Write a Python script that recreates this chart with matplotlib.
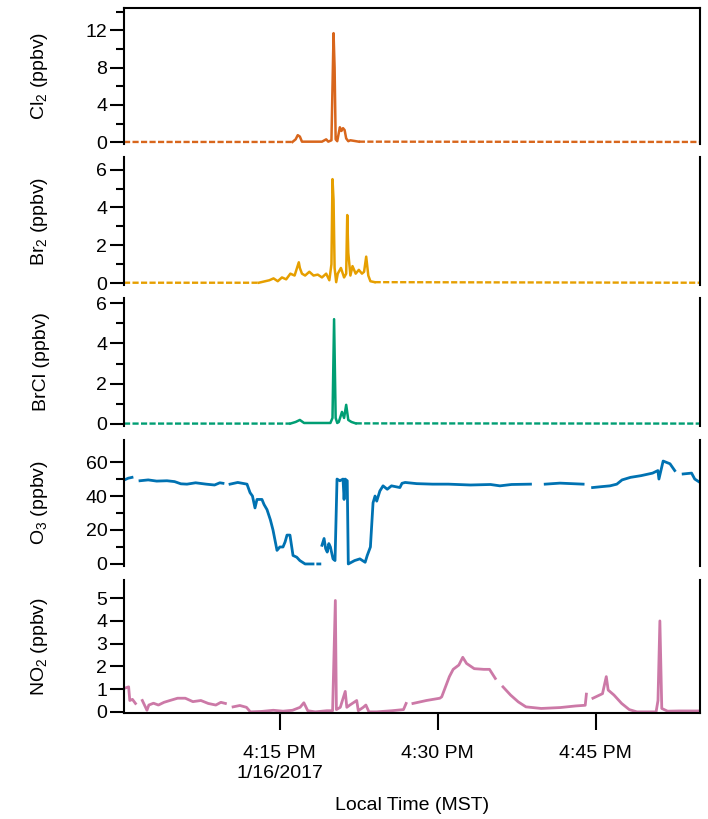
import numpy as np
import matplotlib
matplotlib.use('Agg')
import matplotlib.pyplot as plt
from matplotlib.ticker import FixedLocator

plt.rcParams['font.family'] = ['Liberation Sans', 'DejaVu Sans']
plt.rcParams['mathtext.fontset'] = 'custom'
plt.rcParams['mathtext.rm'] = 'Liberation Sans'
plt.rcParams['mathtext.it'] = 'Liberation Sans:italic'

# time in minutes after 4:00 PM (MST), 1/16/2017
cl2_t = [0.2, 16.2, 16.5, 16.7, 16.9, 17.1, 19.0, 19.4, 19.6, 19.9, 20.1, 20.2, 20.3,
         20.45, 20.7, 20.85, 21.0, 21.15, 21.3, 21.5, 21.7, 22.5, 54.9]
cl2_v = [0.02, 0.02, 0.3, 0.75, 0.6, 0.05, 0.05, 0.3, 0.05, 0.2, 11.7, 8.0, 0.3,
         0.1, 1.6, 1.2, 1.5, 1.3, 0.4, 0.1, 0.2, 0.05, 0.02]

br2_t = [0.2, 13.0, 14.0, 14.4, 14.8, 15.2, 15.6, 16.0, 16.4, 16.8, 16.9, 17.1, 17.4,
         17.8, 18.2, 18.6, 19.0, 19.4, 19.7, 19.9, 20.0, 20.1, 20.2, 20.35, 20.5, 20.8,
         21.1, 21.3, 21.4, 21.5, 21.7, 21.9, 22.2, 22.5, 22.8, 23.0, 23.2, 23.4, 23.6,
         24.0, 54.9]
br2_v = [0.02, 0.02, 0.15, 0.25, 0.1, 0.3, 0.2, 0.5, 0.4, 1.1, 0.8, 0.5, 0.4,
         0.6, 0.4, 0.45, 0.3, 0.5, 0.15, 1.0, 5.5, 4.4, 0.8, 0.05, 0.5, 0.8,
         0.3, 0.5, 3.6, 1.6, 0.4, 0.9, 0.5, 0.7, 0.5, 0.6, 1.4, 0.4, 0.1,
         0.05, 0.02]

brcl_t = [0.2, 16.0, 16.5, 16.9, 17.3, 19.8, 20.0, 20.15, 20.3, 20.45, 20.6, 20.9,
          21.1, 21.3, 21.5, 21.8, 22.2, 54.9]
brcl_v = [0.02, 0.02, 0.1, 0.2, 0.05, 0.05, 0.3, 5.2, 0.3, 0.05, 0.1, 0.6,
          0.3, 0.95, 0.2, 0.1, 0.03, 0.02]

nan = np.nan
o3_t = [0.2, 0.6, 0.96, 1.2, 1.72, 2.5, 3.3, 4.28, 5.0, 5.6, 6.18, 7.0, 8.0, 8.8, 9.3,
        9.6, 9.9, 10.27, 11.0, 11.88, 12.17, 12.4, 12.64, 12.83, 13.3, 13.5, 13.78,
        14.1, 14.35, 14.73, 15.0, 15.3, 15.5, 15.68, 15.96, 16.25, 16.6, 16.9, 17.4,
        18.15, 18.4, 18.6, 18.8, 18.9, 19.0, 19.2, 19.35, 19.5, 19.65, 19.8, 20.05,
        20.24, 20.43, 20.7, 21.0, 21.1, 21.2, 21.4, 21.5, 22.1, 22.6, 23.1, 23.3, 23.6,
        23.85, 24.04, 24.2, 24.5, 24.8, 25.2, 25.6, 26.0, 26.4, 26.6, 26.9, 28.0, 29.5,
        31.0, 33.1, 35.0, 35.9, 37.0, 38.8, 39.4, 40.2, 41.6, 43.8, 44.2, 44.7, 45.5,
        46.35, 47.0, 47.5, 48.3, 49.3, 50.4, 50.9, 51.0, 51.4, 52.05, 52.5, 52.8, 53.3,
        54.1, 54.4, 54.9]
o3_v = [49.4, 50.5, 51, nan, 49, 49.5, 48.8, 49, 48.5, 47.2, 47, 47.8, 47, 46.5, 47.8,
        47.5, nan, 47, 48, 47, 42, 40, 33, 38, 38, 35, 32,
        26, 20, 8, 10, 10, 13, 17, 17, 5, 4, 2, 0,
        0, nan, 0, 0, nan, 11, 15, 9, 7, 12, 10, 3,
        2, 50, 49, 50, 38, 50, 49, 0, 2, 3, 1, 5, 10,
        36, 40, 37, 43, 46, 44, 46, 45.5, 45, 47.5, 48, 47.3, 47,
        47, 46.5, 46.8, 46, 46.8, 47, nan, 47, 47.6, 47, nan, 45, 45.5,
        46, 47, 49.5, 51, 52, 53.5, 55, 50, 60.6, 59, 55, nan, 53,
        53.5, 50, 48]

no2_t = [0.2, 0.64, 0.75, 1.0, 1.29, 1.6, 1.94, 2.38, 2.56, 3.0, 3.47, 4.0, 4.56, 5.29,
         6.02, 6.74, 7.5, 8.2, 8.92, 9.4, 9.83, 10.2, 10.56, 11.2, 11.83, 12.2, 13.29,
         14.38, 15.3, 16.2, 16.92, 17.28, 17.65, 18.37, 19.46, 20.01, 20.27, 20.37,
         20.74, 21.21, 21.36, 21.65, 22.3, 22.45, 22.92, 23.17, 23.46, 24.19, 25.64,
         26.74, 26.99, 27.3, 27.64, 28.92, 30.19, 30.37, 31.1, 31.46, 32.0, 32.37,
         32.73, 33.46, 34.37, 34.91, 35.46, 35.8, 36.19, 36.91, 37.64, 38.37, 39.82,
         41.64, 43.09, 44.0, 44.11, 44.4, 44.73, 45.64, 46.0, 46.18, 46.73, 47.46,
         48.18, 48.91, 50.73, 50.91, 51.09, 51.27, 51.82, 52.91, 54.9]
no2_v = [1.03, 1.1, 0.5, 0.55, 0.37, nan, 0.5, 0.07, 0.3, 0.38, 0.3, 0.42, 0.5, 0.6,
         0.6, 0.45, 0.5, 0.37, 0.3, 0.42, 0.37, nan, 0.22, 0.28, 0.2, 0.0, 0.02,
         0.07, 0.03, 0.07, 0.2, 0.4, 0.05, 0.0, 0.05, 0.05, 4.9, 0.1,
         0.2, 0.9, 0.2, 0.3, 0.5, 0.05, 0.2, 0.3, 0.0, 0.0, 0.05,
         0.1, 0.37, nan, 0.37, 0.5, 0.6, 0.66, 1.55, 1.87, 2.06, 2.4,
         2.13, 1.9, 1.87, 1.87, 1.47, nan, 1.1, 0.74, 0.44, 0.22, 0.15,
         0.19, 0.26, 0.29, 0.78, nan, 0.6, 0.8, 1.55, 0.96, 0.74, 0.37,
         0.1, 0.0, 0.0, 0.5, 4.0, 0.15, 0.03, 0.04, 0.04]

labels = ['Cl$_2$ (ppbv)', 'Br$_2$ (ppbv)', 'BrCl (ppbv)', 'O$_3$ (ppbv)', 'NO$_2$ (ppbv)']
colors = ['#D8661C', '#E69F00', '#009E73', '#0072B2', '#CC79A7']
xtick_pos = [15, 30, 45]
xtick_lab = ['4:15 PM\n1/16/2017', '4:30 PM', '4:45 PM']

W, H = 708, 819
fig = plt.figure(figsize=(W / 100, H / 100), dpi=100)
x0, x1 = 124, 700
rows = [(8, 144), (157, 285), (298, 426), (440, 566), (580, 713)]
ylims = [(-0.2, 14.4), (-0.1, 6.67), (-0.1, 6.25), (-1.2, 73), (-0.05, 5.8)]
majors = [[0, 4, 8, 12], [0, 2, 4, 6], [0, 2, 4, 6], [0, 20, 40, 60], [0, 1, 2, 3, 4, 5]]
minors = [[2, 6, 10, 14], [1, 3, 5], [1, 3, 5], [10, 30, 50], []]


def draw_halogen(ax, t, v, color, a, b):
    t = np.array(t)
    v = np.array(v)
    inside = (t >= a) & (t <= b)
    outside = (t <= a) | (t >= b)
    ax.plot(t, np.where(inside, v, np.nan), color=color, lw=1.8, clip_on=False)
    ax.plot(t, np.where(outside, v, np.nan), color=color, lw=1.7,
            dashes=(2.6, 1.0), clip_on=False)


axes = []
for i, (top, bot) in enumerate(rows):
    ax = fig.add_axes([x0 / W, 1 - bot / H, (x1 - x0) / W, (bot - top) / H])
    axes.append(ax)
    ax.set_xlim(0.2, 54.9)
    ax.set_ylim(*ylims[i])
    ax.yaxis.set_major_locator(FixedLocator(majors[i]))
    ax.yaxis.set_minor_locator(FixedLocator(minors[i]))
    for s in ['left', 'right', 'top', 'bottom']:
        ax.spines[s].set_linewidth(1.5)
    ax.spines['top'].set_visible(i == 0)
    ax.spines['bottom'].set_visible(i == 4)
    ax.tick_params(axis='y', which='major', direction='out', length=10, width=1.5,
                   labelsize=14, pad=2)
    ax.tick_params(axis='y', which='minor', direction='out', length=5.5, width=1.5)
    ax.tick_params(axis='y', which='both', right=False)
    ax.set_ylabel(labels[i], fontsize=14)
    ax.yaxis.set_label_coords(-0.128, 0.5)
    if i < 4:
        ax.tick_params(axis='x', which='both', bottom=False, labelbottom=False)

draw_halogen(axes[0], cl2_t, cl2_v, colors[0], 16.2, 22.5)
draw_halogen(axes[1], br2_t, br2_v, colors[1], 13.0, 24.0)
draw_halogen(axes[2], brcl_t, brcl_v, colors[2], 16.0, 22.2)
axes[3].plot(o3_t, o3_v, color=colors[3], lw=2.0)
axes[4].plot(no2_t, no2_v, color=colors[4], lw=2.0)

ax = axes[4]
ax.xaxis.set_major_locator(FixedLocator(xtick_pos))
ax.set_xticklabels(xtick_lab)
ax.tick_params(axis='x', which='major', direction='out', length=12, width=1.5,
               labelsize=14, pad=11)
ax.tick_params(axis='x', which='minor', bottom=False)
ax.set_xlabel('Local Time (MST)', fontsize=14, labelpad=11)

fig.savefig('out.png', dpi=100)
